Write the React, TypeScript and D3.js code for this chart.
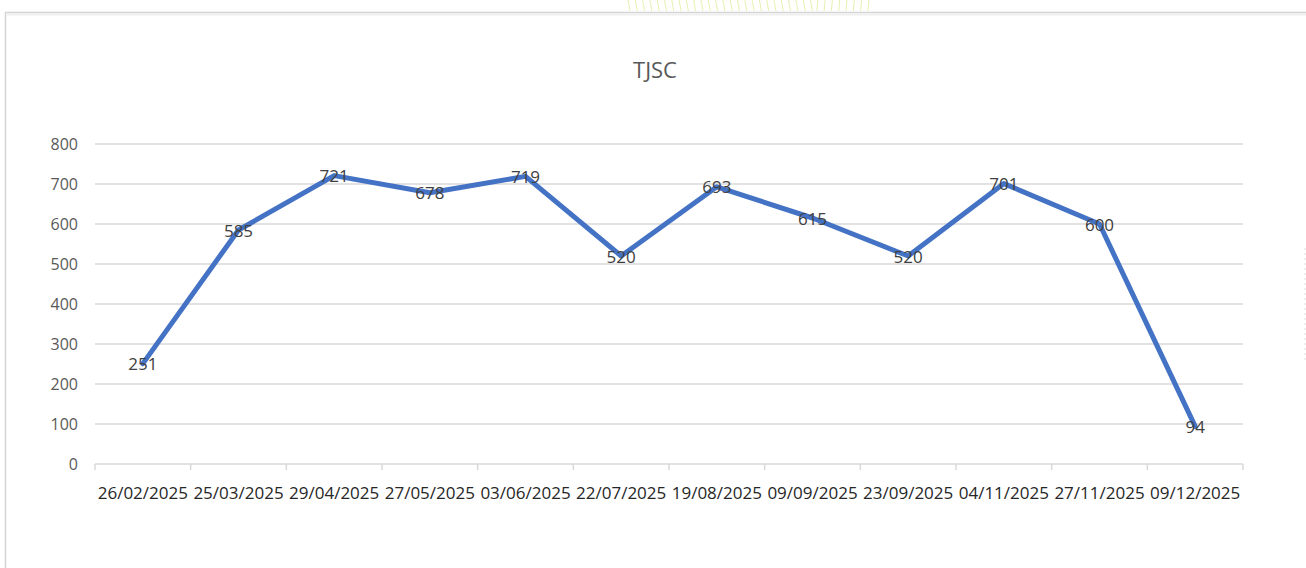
import React from "react";
import * as d3 from "d3";

const title = "TJSC";
const categories = ["26/02/2025","25/03/2025","29/04/2025","27/05/2025","03/06/2025","22/07/2025","19/08/2025","09/09/2025","23/09/2025","04/11/2025","27/11/2025","09/12/2025"];
const values = [251, 585, 721, 678, 719, 520, 693, 615, 520, 701, 600, 94];
const yTicks = [0, 100, 200, 300, 400, 500, 600, 700, 800];

export default function App() {
  const W = 1306, H = 568;
  const left = 95, right = 1243, top = 144, bottom = 464;
  const x = d3.scaleBand<string>().domain(categories).range([left, right]).padding(0);
  const y = d3.scaleLinear().domain([0, 800]).range([bottom, top]);
  const line = d3.line<number>()
    .x((_, i) => (x(categories[i]) as number) + x.bandwidth() / 2)
    .y((d) => y(d));
  const stripes = d3.range(0, 34);
  const font = "Open Sans, Calibri, sans-serif";
  return (
    <svg width={W} height={H} style={{ position: "absolute", left: 0, top: 0, background: "#fff" }}>
      <rect x={0} y={0} width={W} height={H} fill="#fff" />
      {stripes.map((i) => (
        <line key={i} x1={628 + i * 7.3} x2={630 + i * 7.3 - (i > 25 ? 3 : 0)} y1={0} y2={11}
          stroke="#e8efb0" strokeWidth={1} />
      ))}
      <rect x={5.5} y={12.5} width={1310} height={570} fill="#fff" stroke="#d4d4d4" strokeWidth={1.5} />
      <line x1={7} x2={1306} y1={14.5} y2={14.5} stroke="#efefef" strokeWidth={2} />
      <text x={655} y={78} textAnchor="middle" fontFamily={font} fontSize={22} fill="#595959">{title}</text>
      {yTicks.map((t) => (
        <g key={t}>
          <line x1={left} x2={right} y1={y(t)} y2={y(t)} stroke="#d9d9d9" strokeWidth={1.5} />
          <text x={78} y={y(t) + 5.5} textAnchor="end" fontFamily={font} fontSize={16} fill="#595959">{t}</text>
        </g>
      ))}
      {categories.map((c, i) => (
        <line key={"t" + i} x1={x(c) as number} x2={x(c) as number} y1={bottom} y2={bottom + 6} stroke="#d9d9d9" strokeWidth={1.5} />
      ))}
      <line x1={right} x2={right} y1={bottom} y2={bottom + 6} stroke="#d9d9d9" strokeWidth={1.5} />
      {categories.map((c) => (
        <text key={c} x={(x(c) as number) + x.bandwidth() / 2} y={499} textAnchor="middle"
          fontFamily={font} fontSize={17} fill="#262626">{c}</text>
      ))}
      <path d={line(values) as string} fill="none" stroke="#4472C4" strokeWidth={5} strokeLinejoin="round" strokeLinecap="round" />
      {values.map((v, i) => (
        <text key={i} x={(x(categories[i]) as number) + x.bandwidth() / 2} y={y(v) + 6.5} textAnchor="middle"
          fontFamily={font} fontSize={17} fill="#404040">{v}</text>
      ))}
      <line x1={1305} x2={1305} y1={248} y2={360} stroke="#e0e0e0" strokeDasharray="2,3" />
    </svg>
  );
}
